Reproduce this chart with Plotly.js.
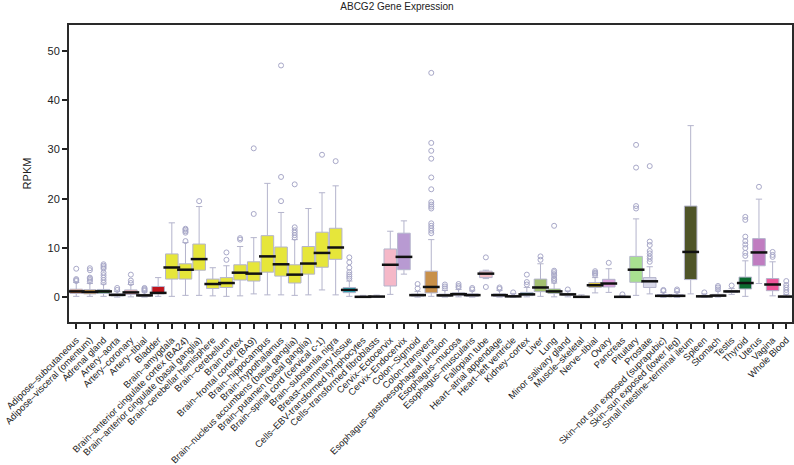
<!DOCTYPE html>
<html>
<head>
<meta charset="utf-8">
<script src="https://cdn.plot.ly/plotly-3.0.1.min.js"></script>
<style>
  body { margin: 0; background: #ffffff; }
  #chart { width: 794px; height: 465px; }
</style>
</head>
<body>
<div id="chart"></div>
<script>
/* ABCG2 - экспрессия по тканям (GTEx) */
var tissues = [
    'Adipose–subcutaneous', 'Adipose–visceral (omentum)', 'Adrenal gland', 'Artery–aorta',
    'Artery–coronary', 'Artery–tibial', 'Bladder', 'Brain–amygdala',
    'Brain–anterior cingulate cortex (BA24)', 'Brain–anterior cingulate (basal ganglia)',
    'Brain–cerebellar hemisphere', 'Brain–cerebellum', 'Brain cortex', 'Brain–frontal cortex (BA9)',
    'Brain–hippocampus', 'Brain–hypothalamus', 'Brain–nucleus accumbens (basal ganglia)',
    'Brain–putamen (basal ganglia)', 'Brain–spinal cord (cervical c-1)', 'Brain–substantia nigra',
    'Breast–mammary tissue', 'Cells–EBV-transformed lymphocytes', 'Cells–transformed fibroblasts',
    'Cervix–Ectocervix', 'Cervix–Endocervix', 'Colon–Sigmoid', 'Colon–transvers',
    'Esophagus–gastroesophageal junction', 'Esophagus–mucosa', 'Esophagus–muscularis',
    'Fallopian tube', 'Heart–atrial appendage', 'Heart–left ventricle', 'Kidney–cortex',
    'Liver', 'Lung', 'Minor salivary gland', 'Muscle–skeletal', 'Nerve–tibial', 'Ovary',
    'Pancreas', 'Pituitary', 'Prostate', 'Skin–not sun exposed (suprapubic)',
    'Skin–sun exposed (lower leg)', 'Small intestine–terminal ileum', 'Spleen', 'Stomach',
    'Testis', 'Thyroid', 'Uterus', 'Vagina', 'Whole Blood'
];

var lowerFence = [0.2, 0.2, 0.2, 0.05, 0.1, 0.05, 0.2, 0.2, 0.4, 0.4, 0.3, 0.2, 0.3, 0.7, 0.5, 0.5, 0.4, 0.5, 1.5, 0.5,
    0.2, 0.0, 0.0, 0.6, 4.7, 0.05, 0.2, 0.05, 0.1, 0.05, 3.8, 0.05, 0.0, 0.1, 0.2, 0.1, 0.1, 0.0, 0.9, 1.0,
    0.0, 0.4, 0.7, 0.0, 0.0, 0.7, 0.0, 0.05, 0.6, 0.2, 2.8, 0.3, 0.0];
var q1 = [0.8, 0.7, 0.8, 0.3, 0.6, 0.2, 0.7, 3.7, 3.7, 5.5, 1.8, 2.0, 3.5, 3.3, 5.1, 4.3, 2.9, 4.7, 6.1, 7.7,
    0.95, 0.05, 0.08, 2.3, 5.6, 0.25, 0.9, 0.2, 0.4, 0.2, 4.0, 0.2, 0.1, 0.35, 1.15, 0.8, 0.4, 0.05, 2.0, 2.1,
    0.05, 3.05, 2.0, 0.15, 0.15, 3.6, 0.1, 0.2, 1.0, 1.7, 6.4, 1.35, 0.05];
var medians = [1.2, 1.1, 1.2, 0.5, 1.0, 0.4, 0.9, 6.05, 5.6, 7.75, 2.7, 2.9, 5.0, 4.8, 8.3, 6.7, 4.6, 6.85, 9.0, 10.1,
    1.5, 0.1, 0.15, 6.6, 8.2, 0.45, 2.1, 0.4, 0.65, 0.45, 4.8, 0.45, 0.2, 0.6, 2.0, 1.2, 0.6, 0.1, 2.45, 2.8,
    0.1, 5.6, 3.25, 0.3, 0.3, 9.2, 0.2, 0.35, 1.2, 2.9, 9.1, 2.6, 0.15];
var q3 = [1.65, 1.55, 1.6, 0.7, 1.5, 0.6, 2.2, 8.8, 6.8, 10.8, 3.7, 4.0, 6.6, 7.2, 12.5, 10.2, 6.6, 10.3, 13.2, 14.0,
    2.0, 0.2, 0.25, 9.8, 13.0, 0.65, 5.3, 0.65, 0.9, 0.7, 5.3, 0.7, 0.4, 1.0, 3.7, 1.7, 0.8, 0.2, 3.0, 3.65,
    0.2, 8.3, 4.0, 0.5, 0.5, 18.5, 0.35, 0.6, 1.4, 4.1, 11.9, 3.8, 0.25];
var upperFence = [3.0, 2.8, 2.7, 1.2, 2.6, 1.1, 4.0, 15.1, 11.1, 18.4, 6.0, 6.4, 10.3, 12.1, 23.1, 17.2, 11.7, 18.0, 21.2, 22.6,
    3.3, 0.4, 0.45, 13.4, 15.5, 1.2, 11.7, 1.4, 1.6, 1.3, 5.5, 1.4, 0.8, 2.0, 6.8, 2.9, 1.3, 0.5, 4.0, 5.8,
    0.4, 15.9, 6.2, 1.0, 1.0, 34.8, 0.7, 1.3, 1.8, 7.4, 19.9, 7.2, 0.6];

var outliers = [
    [3.3, 3.5, 3.7, 5.8], [3.2, 3.5, 3.8, 4.0, 5.5, 5.9], [3.0, 3.5, 4.0, 4.5, 5.0, 5.8, 6.1, 6.4, 6.7], [1.5, 1.9],
    [2.9, 3.4, 4.6], [1.3, 1.5, 1.7, 1.9], [], [],
    [11.4, 13.1, 13.4, 13.7, 13.9], [19.5], [], [7.6, 9.1], [11.7, 12.0], [16.9, 30.2],
    [], [19.5, 24.4, 47.0], [12.1, 12.6, 13.1, 13.6, 14.2, 22.9], [], [28.9], [27.6],
    [3.8, 4.2, 4.6, 5.1, 6.0, 7.1, 8.1], [], [], [], [], [1.8, 2.7],
    [13.0, 13.5, 14.0, 14.5, 15.0, 18.0, 18.4, 18.8, 19.3, 21.9, 24.3, 28.1, 29.7, 31.3, 45.5],
    [1.8, 2.2, 2.6], [2.0, 2.3, 2.7], [1.6, 1.9], [2.1, 8.1], [1.7, 2.0], [1.0], [2.6, 3.1, 4.6],
    [7.6, 8.3], [3.3, 3.6, 3.9, 4.4, 4.7, 5.1, 5.4, 14.5], [1.6], [], [4.5, 4.8, 5.0, 5.3], [7.0],
    [0.6], [18.0, 18.5, 26.3, 30.9], [7.2, 7.8, 8.3, 8.9, 9.4, 10.6, 11.3, 26.6], [1.3, 1.5],
    [1.3, 1.6], [], [1.0], [1.6, 2.0, 2.3], [2.4], [8.4, 9.0, 10.0, 10.7, 11.4, 12.3, 15.7, 16.3],
    [22.4], [8.2, 8.6, 9.2], [1.0, 1.5, 2.0, 2.5, 3.3]
];

var colors = [
    '#e4762e', '#e8a23a', '#2e9e44', '#e86060', '#e8a0a0', '#d42a2a', '#c0141c', '#e6e63a',
    '#e6e63a', '#e6e63a', '#e6e63a', '#e6e63a', '#e6e63a', '#e6e63a', '#e6e63a', '#e6e63a',
    '#e6e63a', '#e6e63a', '#e6e63a', '#e6e63a', '#33b8c8', '#cc66ff', '#aaeeff', '#f5b8c8',
    '#b89ad2', '#eebb77', '#c8904a', '#8b7355', '#552200', '#bb9988', '#f5c0c8', '#9900ff',
    '#660099', '#22a8a8', '#a3c070', '#7dbb3c', '#99bb88', '#aaaaff', '#e0c84a', '#dda0dd',
    '#995522', '#a8e090', '#d8d8e8', '#0000ff', '#7777ff', '#4f5528', '#778855', '#ffdd99',
    '#aaaaaa', '#0a6b30', '#c07cc0', '#ee5599', '#ff00bb'
];

function RenderPlotlyChart_box(ref) {
    var data = [];

    for (var i = 0; i < tissues.length; i++) {
        data.push({
            type: 'box',
            x: [tissues[i]],
            q1: [q1[i]],
            median: [medians[i]],
            q3: [q3[i]],
            lowerfence: [lowerFence[i]],
            upperfence: [upperFence[i]],
            width: 0.92,
            whiskerwidth: 0.5,
            fillcolor: colors[i],
            line: { color: '#b4b4cc', width: 1 },
            showlegend: false,
            hoverinfo: 'skip'
        });
    }

    // выбросы
    var ox = [], oy = [];
    for (var j = 0; j < tissues.length; j++) {
        for (var k = 0; k < outliers[j].length; k++) {
            ox.push(tissues[j]);
            oy.push(outliers[j][k]);
        }
    }
    data.push({
        type: 'scatter',
        mode: 'markers',
        x: ox,
        y: oy,
        marker: { symbol: 'circle-open', size: 5, color: '#a8a8c8', line: { width: 1 } },
        showlegend: false,
        hoverinfo: 'y'
    });

    // медианы - чёрные штрихи
    data.push({
        type: 'scatter',
        mode: 'markers',
        x: tissues,
        y: medians,
        marker: { symbol: 'line-ew', size: 12, line: { color: '#111111', width: 2.5 } },
        showlegend: false,
        hoverinfo: 'y'
    });

    var layout = {
        title: {
            text: 'ABCG2 Gene Expression',
            font: { family: 'Liberation Sans, Arial, sans-serif', size: 10, color: '#222' },
            x: 0.5, xref: 'container', y: 0.993, yref: 'container', yanchor: 'top'
        },
        width: 794,
        height: 465,
        margin: { l: 69, r: 2, t: 25, b: 143 },
        paper_bgcolor: '#ffffff',
        plot_bgcolor: '#ffffff',
        font: { family: 'Liberation Sans, Arial, sans-serif', color: '#222' },
        showlegend: false,
        xaxis: {
            type: 'category',
            categoryorder: 'array',
            categoryarray: tissues,
            range: [-0.53, 52.42],
            tickangle: -45,
            tickfont: { size: 9.4, color: '#222' },
            ticks: 'outside',
            ticklen: 5,
            tickwidth: 1.5,
            tickcolor: '#222',
            ticklabelstandoff: 2,
            showline: true,
            mirror: true,
            linecolor: '#2a2a2a',
            linewidth: 2,
            showgrid: false,
            automargin: false
        },
        yaxis: {
            range: [-5, 55.2],
            dtick: 10,
            tickfont: { size: 11, color: '#222' },
            ticks: 'outside',
            ticklen: 5,
            tickwidth: 1.5,
            tickcolor: '#222',
            showline: true,
            mirror: true,
            linecolor: '#2a2a2a',
            linewidth: 2,
            showgrid: false,
            zeroline: false,
            automargin: false,
            title: { text: 'RPKM', font: { size: 11, color: '#222' }, standoff: 14 }
        }
    };

    var config = { displayModeBar: false, responsive: false };

    Plotly.newPlot(ref, data, layout, config);
}

RenderPlotlyChart_box('chart');
</script>
</body>
</html>
